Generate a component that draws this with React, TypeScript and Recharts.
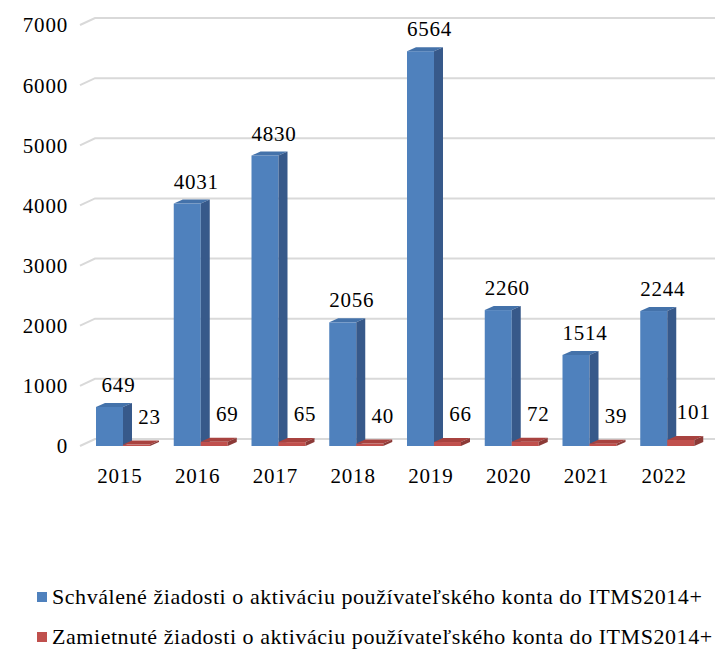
import { BarChart, Bar, XAxis, YAxis, CartesianGrid, LabelList } from 'recharts'

const YEARS = ['2015', '2016', '2017', '2018', '2019', '2020', '2021', '2022']
const APPROVED = [649, 4031, 4830, 2056, 6564, 2260, 1514, 2244]
const REJECTED = [23, 69, 65, 40, 66, 72, 39, 101]
const Y_TICKS = [0, 1000, 2000, 3000, 4000, 5000, 6000, 7000]

const SERIES = [
  {
    key: 'approved',
    name: 'Schválené žiadosti o aktiváciu používateľského konta do ITMS2014+',
    front: '#4F81BD',
    top: '#4472AA',
    side: '#37598A',
    labelDx: 9,
    labelDy: 22,
  },
  {
    key: 'rejected',
    name: 'Zamietnuté žiadosti o aktiváciu používateľského konta do ITMS2014+',
    front: '#C0504D',
    top: '#A8423F',
    side: '#8C3A37',
    labelDx: 13,
    labelDy: 28,
  },
]

const data = YEARS.map((year, i) => ({
  year,
  approved: APPROVED[i],
  rejected: REJECTED[i],
}))

const FONT = "'Liberation Serif', Tinos, 'Times New Roman', 'DejaVu Serif', serif"
const DX = 9 // hĺbka stĺpca
const DY = 4

function make3DBar(front: string, top: string, side: string) {
  return (props: any) => {
    const { x, y, width, height } = props
    if (width == null || height == null) return null
    const r = x + width
    const b = y + height
    return (
      <g>
        <rect x={x} y={y} width={width} height={height} fill={front} />
        <path d={`M${x},${y} L${x + DX},${y - DY} L${r + DX},${y - DY} L${r},${y} Z`} fill={top} />
        <path d={`M${r},${y} L${r + DX},${y - DY} L${r + DX},${b - DY} L${r},${b} Z`} fill={side} />
      </g>
    )
  }
}

function makeLabel(dx: number, dy: number) {
  return (props: any) => {
    const { x, y, width, value } = props
    return (
      <text
        x={x + width / 2 + dx}
        y={y - dy + 7}
        textAnchor="middle"
        fill="#000"
        style={{ fontSize: 21, fontFamily: FONT, letterSpacing: 0.8 }}
      >
        {value}
      </text>
    )
  }
}

// mriežka na zadnej stene s diagonálou vľavo
const gridLine = (props: any) => {
  const { x1, y1, x2, key } = props
  return (
    <path
      key={key}
      d={`M${x1 - 4},${y1} L${x1 + 11},${y1 - 7} L${x2 + 9},${y1 - 7}`}
      stroke="#D9D9D9"
      strokeWidth={2}
      fill="none"
    />
  )
}

const tickStyle = { fill: '#000', fontSize: 21, fontFamily: FONT, letterSpacing: 0.8 }

export default function App() {
  return (
    <div style={{ position: 'relative', width: 721, height: 651, overflow: 'hidden', background: '#fff', fontFamily: FONT }}>
      <style>{`body{margin:0}`}</style>
      <BarChart
        width={721}
        height={500}
        data={data}
        margin={{ top: 25, right: 15, bottom: 14, left: 0 }}
        barGap={0}
        barSize={27}
        style={{ fontFamily: FONT }}
      >
        <CartesianGrid vertical={false} horizontal={gridLine} />
        <XAxis
          dataKey="year"
          axisLine={false}
          tickLine={false}
          tickSize={0}
          tickMargin={22}
          height={40}
          dx={-3}
          tick={tickStyle}
        />
        <YAxis
          domain={[0, 7000]}
          ticks={Y_TICKS}
          axisLine={false}
          tickLine={false}
          tickSize={0}
          tickMargin={16}
          width={84}
          tick={tickStyle}
        />
        {SERIES.map((s) => (
          <Bar
            key={s.key}
            dataKey={s.key}
            name={s.name}
            fill={s.front}
            shape={make3DBar(s.front, s.top, s.side)}
            isAnimationActive={false}
          >
            <LabelList dataKey={s.key} content={makeLabel(s.labelDx, s.labelDy)} />
          </Bar>
        ))}
      </BarChart>
      {SERIES.map((s, i) => (
        <div
          key={s.key}
          style={{
            position: 'absolute',
            left: 37,
            top: 584 + i * 40,
            whiteSpace: 'nowrap',
            fontFamily: FONT,
            fontSize: 22,
            letterSpacing: 0.55,
            color: '#000',
            display: 'flex',
            alignItems: 'center',
          }}
        >
          <span style={{ display: 'inline-block', width: 10, height: 10, background: s.front, marginRight: 5 }} />
          {s.name}
        </div>
      ))}
    </div>
  )
}
